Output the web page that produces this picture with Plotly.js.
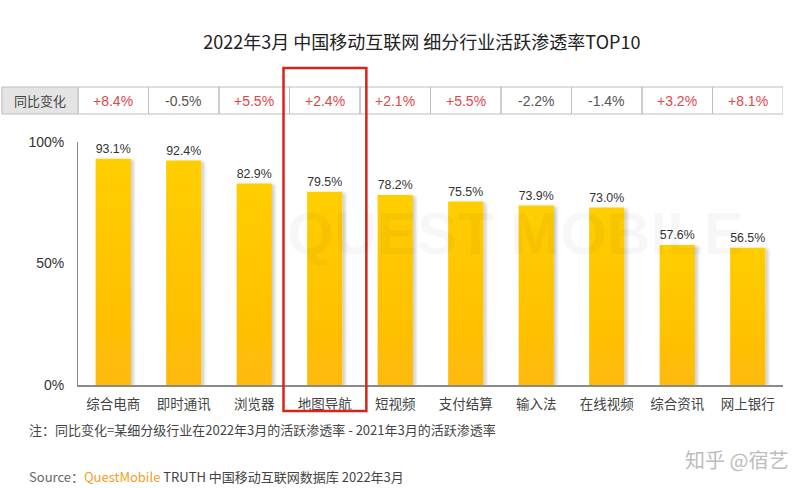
<!DOCTYPE html>
<html>
<head>
<meta charset="utf-8">
<script src="https://cdn.plot.ly/plotly-3.0.1.min.js"></script>
<style>
html,body{margin:0;padding:0;background:#fff;}
#chart{width:799px;height:488px;}
</style>
</head>
<body>
<div id="chart"></div>
<script>
const categories = ['综合电商','即时通讯','浏览器','地图导航','短视频','支付结算','输入法','在线视频','综合资讯','网上银行'];
const penetration = [93.1,92.4,82.9,79.5,78.2,75.5,73.9,73.0,57.6,56.5];
const yoyChange = [8.4,-0.5,5.5,2.4,2.1,5.5,-2.2,-1.4,3.2,8.1];
const yTickVals = [0,50,100];
const yTickText = ['0%','50%','100%'];
const highlightIndex = 3;

const cjk = '"Noto Sans CJK SC", "Liberation Sans", sans-serif';
const latin = '"Liberation Sans", Arial, sans-serif';

const trace = {
  type: 'bar',
  x: categories,
  y: penetration,
  marker: {color: '#FFC600', line: {width: 0}},
  texttemplate: '%{y:.1f}%',
  textposition: 'outside',
  textfont: {family: latin, size: 14.5, color: '#333'},
  cliponaxis: false,
  hoverinfo: 'skip'
};

// table geometry (paper coords)
const tY0 = 1.1152, tY1 = 1.2263, tYm = (tY0 + tY1) / 2;

const shapes = [];
const annotations = [];

// watermark background
annotations.push({xref:'paper', yref:'paper', x:0.62, y:0.625, text:'<b>QUEST MOBILE</b>', showarrow:false,
  font:{family:latin, size:60, color:'rgba(0,0,0,0.03)'}, xanchor:'center', yanchor:'middle'});

// header cell
shapes.push({type:'rect', xref:'paper', yref:'paper', x0:-0.108, x1:0, y0:tY0, y1:tY1,
  fillcolor:'#e4e4e4', line:{color:'#bdbdbd', width:1}, layer:'below'});
annotations.push({xref:'paper', yref:'paper', x:-0.054, y:tYm, text:'同比变化', showarrow:false,
  font:{family:cjk, size:13, color:'#444'}, xanchor:'center', yanchor:'middle'});

categories.forEach((c, i) => {
  shapes.push({type:'rect', xref:'x', yref:'paper', x0:i-0.5, x1:i+0.5, y0:tY0, y1:tY1,
    fillcolor:'rgba(0,0,0,0)', line:{color:'#bdbdbd', width:1}});
  const v = yoyChange[i];
  annotations.push({xref:'x', yref:'paper', x:c, y:tYm,
    text:(v > 0 ? '+' : '') + v.toFixed(1) + '%', showarrow:false,
    font:{family:latin, size:14, color: v > 0 ? '#e0474c' : '#555'},
    xanchor:'center', yanchor:'middle'});
});

// highlight rectangle
shapes.push({type:'rect', xref:'x', yref:'paper', x0:highlightIndex-0.585, x1:highlightIndex+0.59,
  y0:-0.107, y1:1.3045, line:{color:'#d8231d', width:2.5}, fillcolor:'rgba(0,0,0,0)'});

// note
annotations.push({xref:'paper', yref:'paper', x:-0.072, y:-0.185, xanchor:'left', yanchor:'middle',
  text:'注：同比变化=某细分级行业在2022年3月的活跃渗透率 - 2021年3月的活跃渗透率', showarrow:false,
  font:{family:cjk, size:13, color:'#444'}});

// source
annotations.push({xref:'paper', yref:'paper', x:-0.072, y:-0.3745, xanchor:'left', yanchor:'middle',
  text:'<span style="color:#666">Source：</span><span style="color:#f0a01e">QuestMobile</span> TRUTH 中国移动互联网数据库 2022年3月',
  showarrow:false, font:{family:cjk, size:13, color:'#444'}});

// zhihu watermark
annotations.push({xref:'paper', yref:'paper', x:1.01, y:-0.305, xanchor:'right', yanchor:'middle',
  text:'知乎 @宿艺', showarrow:false, font:{family:cjk, size:20, color:'#bdbdbd'}});

const layout = {
  width: 799, height: 488,
  margin: {l:78, r:16, t:142, b:103, pad:0},
  paper_bgcolor:'#fff', plot_bgcolor:'rgba(0,0,0,0)',
  title: {text:'2022年3月 中国移动互联网 细分行业活跃渗透率TOP10', x:0.528, xref:'container', xanchor:'center',
    y:0.912, yref:'container', yanchor:'middle', font:{family:cjk, size:18, color:'#222', weight:400}},
  bargap: 0.5,
  showlegend:false,
  xaxis: {type:'category', range:[-0.5, 9.5], showline:true, linecolor:'#8a8a8a', linewidth:1.5,
    ticks:'', showgrid:false, zeroline:false, tickfont:{family:cjk, size:13.5, color:'#444'},
    ticklabelstandoff: 6, fixedrange:true},
  yaxis: {range:[0,100], showline:true, linecolor:'#8a8a8a', linewidth:1, ticks:'',
    tickvals:yTickVals, ticktext:yTickText, showgrid:false, zeroline:false,
    tickfont:{family:latin, size:14, color:'#333'}, ticklabelstandoff: 10, fixedrange:true},
  shapes: shapes,
  annotations: annotations
};

Plotly.newPlot('chart', [trace], layout, {displayModeBar:false, staticPlot:true}).then(() => {
  const svg = document.querySelector('#chart .main-svg');
  const ns = 'http://www.w3.org/2000/svg';
  const defs = document.createElementNS(ns, 'defs');
  defs.innerHTML =
    '<linearGradient id="barGrad" x1="0" y1="0" x2="0" y2="1">' +
    '<stop offset="0" stop-color="#FFCE00"/><stop offset="1" stop-color="#FFBA08"/></linearGradient>' +
    '<filter id="barShadow" x="-20%" y="-5%" width="150%" height="110%">' +
    '<feDropShadow dx="3" dy="1" stdDeviation="1.5" flood-color="#000" flood-opacity="0.18"/></filter>';
  svg.insertBefore(defs, svg.firstChild);
  document.querySelectorAll('#chart .bars .point path').forEach(p => {
    p.style.fill = 'url(#barGrad)';
    p.setAttribute('filter', 'url(#barShadow)');
  });
});
</script>
</body>
</html>
